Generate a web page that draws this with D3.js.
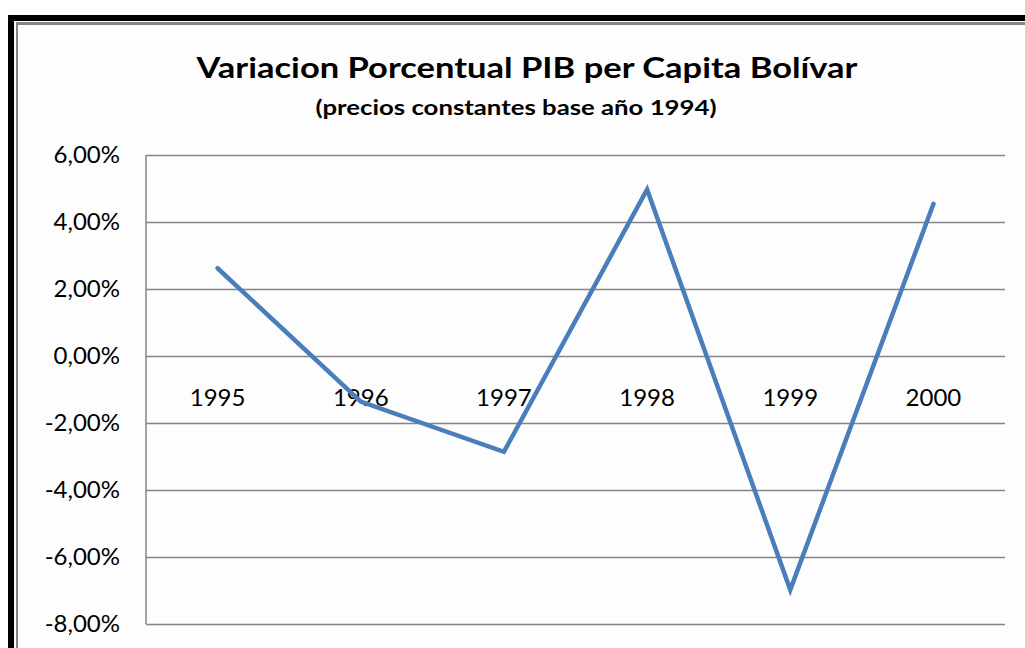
<!DOCTYPE html>
<html>
<head>
<meta charset="utf-8">
<script src="https://cdn.jsdelivr.net/npm/d3@7"></script>
<style>
    html, body { margin: 0; padding: 0; background: #ffffff; }
    svg { display: block; }
</style>
</head>
<body>
<div id="chart"></div>
<script>
// datos
const years = ['1995', '1996', '1997', '1998', '1999', '2000'];
const variacion = [2.62, -1.36, -2.86, 4.97, -6.98, 4.54];
const yTicks = [6, 4, 2, 0, -2, -4, -6, -8];
const title = 'Variacion Porcentual PIB per Capita Bolívar';
const subtitle = '(precios constantes base año 1994)';

const width = 1025;
const height = 648;
const font = 'Lato, "Open Sans", "Liberation Sans", sans-serif';

const svg = d3.select('#chart').append('svg')
    .attr('width', width)
    .attr('height', height);

// marco
svg.append('rect').attr('x', 0).attr('y', 0).attr('width', width).attr('height', height).attr('fill', '#ffffff');
svg.append('rect').attr('x', 8).attr('y', 15).attr('width', width - 8).attr('height', height - 15).attr('fill', '#000000');
svg.append('rect').attr('x', 14).attr('y', 21).attr('width', width - 14).attr('height', height - 21).attr('fill', '#ffffff');
svg.append('rect').attr('x', 16).attr('y', 22).attr('width', width - 16).attr('height', height - 22).attr('fill', '#858585');
svg.append('rect').attr('x', 18).attr('y', 25).attr('width', width - 18).attr('height', height - 25).attr('fill', '#fdfdfd');

// area de trazado
const plot = {left: 146, right: 1005, top: 155, bottom: 624};

const x = d3.scaleBand()
    .domain(years)
    .range([plot.left, plot.right]);

const y = d3.scaleLinear()
    .domain([-8, 6])
    .range([plot.bottom, plot.top]);

// titulos
svg.append('text')
    .attr('x', 527)
    .attr('y', 78)
    .attr('text-anchor', 'middle')
    .attr('font-family', font)
    .attr('font-weight', 'bold')
    .attr('font-size', '29px')
    .attr('textLength', 661)
    .attr('lengthAdjust', 'spacingAndGlyphs')
    .attr('fill', '#000')
    .text(title);

svg.append('text')
    .attr('x', 516)
    .attr('y', 115)
    .attr('text-anchor', 'middle')
    .attr('font-family', font)
    .attr('font-weight', 'bold')
    .attr('font-size', '21px')
    .attr('textLength', 401)
    .attr('lengthAdjust', 'spacingAndGlyphs')
    .attr('fill', '#000')
    .text(subtitle);

// lineas de division
const yAxis = d3.axisLeft(y)
    .tickValues(yTicks)
    .tickSize(-(plot.right - plot.left))
    .tickPadding(26)
    .tickFormat(d => d3.format('.2f')(d).replace('.', ',').replace('\u2212', '-') + '%');

const gy = svg.append('g')
    .attr('transform', `translate(${plot.left},0)`)
    .call(yAxis);

gy.select('.domain')
    .attr('d', `M0,${plot.top}V${plot.bottom}`)
    .attr('stroke', '#858585')
    .attr('stroke-width', 1.5);

gy.selectAll('.tick line')
    .attr('stroke', '#858585')
    .attr('stroke-width', 1.5);

gy.selectAll('.tick text')
    .attr('font-family', font)
    .attr('font-size', '24px')
    .attr('fill', '#000');

// etiquetas de categorias sobre el eje 0
const xAxis = d3.axisBottom(x)
    .tickSize(0)
    .tickPadding(33);

const gx = svg.append('g')
    .attr('transform', `translate(0,${y(0)})`)
    .call(xAxis);

gx.select('.domain').remove();
gx.selectAll('.tick text')
    .attr('font-family', font)
    .attr('font-size', '24px')
    .attr('fill', '#000');

// serie
const line = d3.line()
    .x((d, i) => x(years[i]) + x.bandwidth() / 2)
    .y(d => y(d));

svg.append('path')
    .datum(variacion)
    .attr('d', line)
    .attr('fill', 'none')
    .attr('stroke', '#4a7ebb')
    .attr('stroke-width', 4.5)
    .attr('stroke-linecap', 'round')
    .attr('stroke-linejoin', 'miter');
</script>
</body>
</html>
